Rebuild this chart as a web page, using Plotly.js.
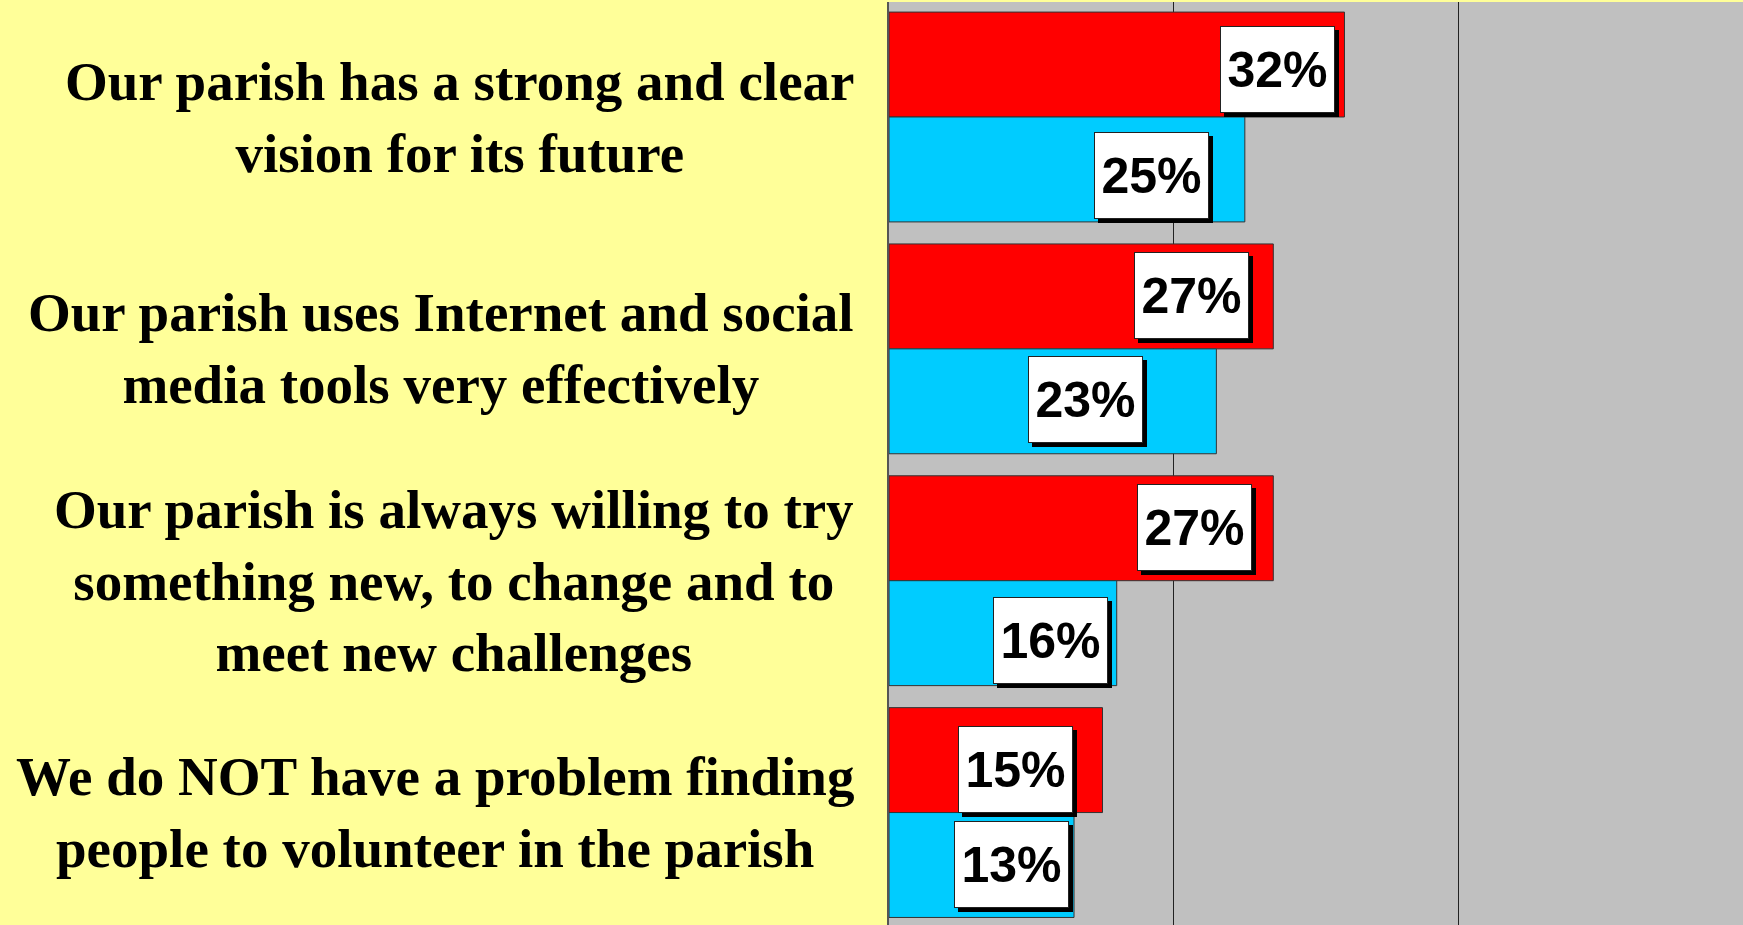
<!DOCTYPE html>
<html>
<head>
<meta charset="utf-8">
<script src="https://cdn.plot.ly/plotly-3.0.1.min.js"></script>
<style>
  html, body { margin: 0; padding: 0; background: #FFFF99; }
  #chart { width: 1743px; height: 925px; }
</style>
</head>
<body>
<div id="chart"></div>
<script>
// ---- Data ----
const categories = [
  "Our parish has a strong and clear<br>vision for its future",
  "Our parish uses Internet and social<br>media tools very effectively",
  "Our parish is always willing to try<br>something new, to change and to<br>meet new challenges",
  "We do NOT have a problem finding<br>people to volunteer in the parish"
];
const redValues  = [32, 27, 27, 15];
const blueValues = [25, 23, 16, 13];

// ---- Styling (label placement offsets in px, not data) ----
const labelDx = { red: [-9, -24, -21, -30], blue: [-36, -73, -9, -5] };
const labelDy = { red: [5, -1, -1, 9.5],    blue: [6, -2, 7, -0.5] };

const idx = categories.map((_, i) => i);
const BARGAP = 0.095;
const half = (1 - BARGAP) / 4;

const traces = [
  {
    type: 'bar', orientation: 'h', name: 'Series 1',
    x: redValues, y: idx,
    marker: { color: '#FF0000', line: { color: '#333333', width: 1 } },
    hoverinfo: 'x'
  },
  {
    type: 'bar', orientation: 'h', name: 'Series 2',
    x: blueValues, y: idx,
    marker: { color: '#00CCFF', line: { color: '#333333', width: 1 } },
    hoverinfo: 'x'
  }
];

const annotations = [];
// Category labels on the left
categories.forEach((c, i) => {
  annotations.push({
    xref: 'paper', yref: 'y', x: 0, y: i,
    xanchor: 'right', yanchor: 'middle', xshift: -33,
    align: 'center', showarrow: false,
    text: c,
    font: { family: 'Liberation Serif, Times New Roman, serif', size: 55, color: '#000000', weight: 'bold' }
  });
});

function addLabel(val, yPos, dx, dy) {
  const common = {
    xref: 'x', yref: 'y', x: val, y: yPos,
    xanchor: 'right', yanchor: 'middle', showarrow: false,
    width: 113, height: 85, borderpad: 0, borderwidth: 1,
    font: { family: 'Liberation Sans, Arial, sans-serif', size: 50, color: '#000000' }
  };
  // shadow (box only)
  annotations.push(Object.assign({}, common, {
    text: '&nbsp;',
    xshift: dx + 4, yshift: -dy - 4,
    bgcolor: '#000000', bordercolor: '#000000'
  }));
  // white label box
  annotations.push(Object.assign({}, common, {
    text: '<b>' + val + '%</b>',
    xshift: dx, yshift: -dy,
    bgcolor: '#FFFFFF', bordercolor: '#222222'
  }));
}

idx.forEach(i => {
  addLabel(redValues[i], i - half, labelDx.red[i], labelDy.red[i]);
  addLabel(blueValues[i], i + half, labelDx.blue[i], labelDy.blue[i]);
});

const layout = {
  width: 1743, height: 925,
  margin: { l: 889, r: 0, t: 2, b: 0, pad: 0 },
  paper_bgcolor: '#FFFF99',
  plot_bgcolor: '#C0C0C0',
  barmode: 'group',
  bargap: BARGAP,
  bargroupgap: 0,
  showlegend: false,
  xaxis: {
    range: [0, 60], dtick: 20, tick0: 0,
    showgrid: true, gridcolor: '#222222', gridwidth: 1,
    zeroline: false, showticklabels: false, ticks: '',
    showline: false, fixedrange: true
  },
  yaxis: {
    range: [3.485, -0.496],
    showgrid: false, zeroline: false, showticklabels: false, ticks: '',
    showline: true, linecolor: '#555555', linewidth: 2, fixedrange: true
  },
  annotations: annotations
};

Plotly.newPlot('chart', traces, layout, { displayModeBar: false, staticPlot: true });
</script>
</body>
</html>
